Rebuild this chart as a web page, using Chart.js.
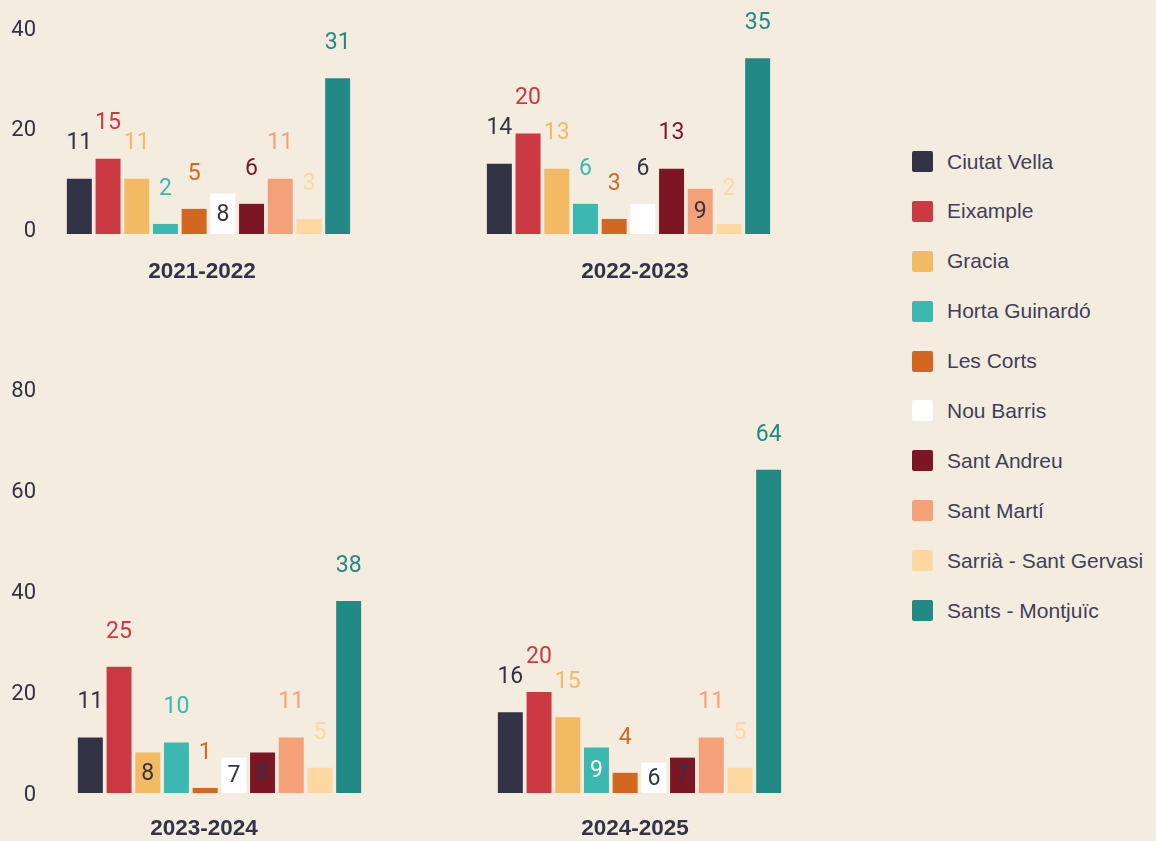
<!DOCTYPE html>
<html lang="ca">
<head>
    <meta charset="UTF-8">
    <title>Districtes per curs</title>
    <script src="https://cdn.jsdelivr.net/npm/chart.js@4.4.1/dist/chart.umd.min.js"></script>
    <style>
        body {
            margin: 0;
            width: 1156px;
            height: 841px;
            overflow: hidden;
            background-color: #f5ece0;
            position: relative;
        }
        .panel {
            position: absolute;
        }
        .legend {
            position: absolute;
            left: 912px;
            top: 151px;
            font-family: 'Liberation Sans', Arial, sans-serif;
            font-size: 21px;
            color: #404058;
        }
        .legend-item {
            display: flex;
            align-items: center;
            height: 21px;
            margin-bottom: 28.9px;
            white-space: nowrap;
        }
        .legend-box {
            width: 21px;
            height: 21px;
            border-radius: 2px;
            margin-right: 14px;
            flex: none;
        }
    </style>
</head>
<body>
    <canvas id="c0" class="panel"></canvas>
    <canvas id="c1" class="panel"></canvas>
    <canvas id="c2" class="panel"></canvas>
    <canvas id="c3" class="panel"></canvas>
    <div class="legend" id="legend"></div>

    <script>
        // dades
        const districts = ['Ciutat Vella', 'Eixample', 'Gracia', 'Horta Guinardó', 'Les Corts',
            'Nou Barris', 'Sant Andreu', 'Sant Martí', 'Sarrià - Sant Gervasi', 'Sants - Montjuïc'];
        const seasons = ['2021-2022', '2022-2023', '2023-2024', '2024-2025'];
        const values2122 = [11, 15, 11, 2, 5, 8, 6, 11, 3, 31];
        const values2223 = [14, 20, 13, 6, 3, 6, 13, 9, 2, 35];
        const values2324 = [11, 25, 8, 10, 1, 7, 8, 11, 5, 38];
        const values2425 = [16, 20, 15, 9, 4, 6, 7, 11, 5, 64];
        const ticksTopRow = [0, 20, 40];
        const ticksBottomRow = [0, 20, 40, 60, 80];

        const seriesValues = [values2122, values2223, values2324, values2425];

        const barColors = ['#333346', '#cb3a42', '#f2bb63', '#3bb8b0', '#d26720',
            '#ffffff', '#7c1524', '#f4a17a', '#fed8a0', '#228984'];
        const darkText = '#333347';

        // label color above the bar (white bar gets dark text)
        const labelColors = barColors.map(c => c === '#ffffff' ? darkText : c);

        // panel layout: canvas box, axis width, paddings, title spot, labels drawn inside the bar
        const panels = [
            { left: 0, top: 0, width: 410, height: 290, axisW: 65, showTicks: true, ticks: ticksTopRow,
              pad: { top: 33, right: 58, bottom: 56 }, titleX: 202, titleDy: 37.5, tickOffset: -3,
              inside: { 5: darkText } },
            { left: 420, top: 0, width: 430, height: 290, axisW: 65, showTicks: false, ticks: ticksTopRow,
              pad: { top: 33, right: 78, bottom: 56 }, titleX: 215, titleDy: 37.5, tickOffset: -3,
              inside: { 7: darkText } },
            { left: 0, top: 370, width: 410, height: 471, axisW: 76, showTicks: true, ticks: ticksBottomRow,
              pad: { top: 19, right: 47, bottom: 48 }, titleX: 204, titleDy: 36, tickOffset: 2,
              inside: { 2: darkText, 5: darkText, 6: darkText } },
            { left: 420, top: 370, width: 430, height: 471, axisW: 76, showTicks: false, ticks: ticksBottomRow,
              pad: { top: 19, right: 67, bottom: 48 }, titleX: 215, titleDy: 36, tickOffset: 2,
              inside: { 3: '#ffffff', 5: darkText, 6: darkText } }
        ];

        const valueLabels = {
            id: 'valueLabels',
            afterDatasetsDraw(chart, args, opts) {
                const ctx = chart.ctx;
                const meta = chart.getDatasetMeta(0);
                const data = chart.data.datasets[0].data;
                ctx.save();
                ctx.font = '23px Roboto';
                ctx.textAlign = 'center';
                ctx.textBaseline = 'middle';
                meta.data.forEach((bar, i) => {
                    const inColor = opts.inside[i];
                    let y;
                    if (inColor) {
                        ctx.fillStyle = inColor;
                        y = (bar.y + bar.base) / 2 + 1;
                    } else {
                        ctx.fillStyle = labelColors[i];
                        y = bar.y - 35;
                    }
                    ctx.fillText(String(data[i]), bar.x, y);
                });
                ctx.restore();
            }
        };

        // season name under each panel
        const panelTitle = {
            id: 'panelTitle',
            afterDraw(chart, args, opts) {
                const ctx = chart.ctx;
                ctx.save();
                ctx.font = "bold 22.5px 'Liberation Sans', Arial, sans-serif";
                ctx.fillStyle = darkText;
                ctx.textAlign = 'center';
                ctx.textBaseline = 'middle';
                ctx.fillText(opts.text, opts.x, chart.chartArea.bottom + opts.dy);
                ctx.restore();
            }
        };

        panels.forEach((p, k) => {
            const canvas = document.getElementById('c' + k);
            canvas.width = p.width;
            canvas.height = p.height;
            canvas.style.left = p.left + 'px';
            canvas.style.top = p.top + 'px';

            new Chart(canvas, {
                type: 'bar',
                data: {
                    labels: districts,
                    datasets: [{
                        data: seriesValues[k],
                        backgroundColor: barColors,
                        borderWidth: 0,
                        categoryPercentage: 1,
                        barPercentage: 0.87
                    }]
                },
                options: {
                    responsive: false,
                    animation: false,
                    events: [],
                    layout: { padding: { left: 0, top: p.pad.top, right: p.pad.right, bottom: p.pad.bottom } },
                    scales: {
                        x: { display: false },
                        y: {
                            min: p.ticks[0],
                            max: p.ticks[p.ticks.length - 1],
                            afterBuildTicks: scale => { scale.ticks = p.ticks.map(v => ({ value: v })); },
                            afterFit: scale => {
                                scale.width = p.axisW;
                                scale.paddingTop = 0;
                                scale.paddingBottom = 0;
                            },
                            grid: { display: false, drawTicks: false },
                            border: { display: false },
                            ticks: {
                                display: p.showTicks,
                                padding: p.axisW - 36,
                                labelOffset: p.tickOffset,
                                color: darkText,
                                font: { family: 'Roboto', size: 22 }
                            }
                        }
                    },
                    plugins: {
                        legend: { display: false },
                        tooltip: { enabled: false },
                        title: { display: false },
                        valueLabels: { inside: p.inside },
                        panelTitle: { text: seasons[k], x: p.titleX, dy: p.titleDy }
                    }
                },
                plugins: [valueLabels, panelTitle]
            });
        });

        // llegenda
        const legend = document.getElementById('legend');
        districts.forEach((name, i) => {
            const item = document.createElement('div');
            item.className = 'legend-item';
            const box = document.createElement('span');
            box.className = 'legend-box';
            box.style.backgroundColor = barColors[i];
            const label = document.createElement('span');
            label.textContent = name;
            item.appendChild(box);
            item.appendChild(label);
            legend.appendChild(item);
        });
    </script>
</body>
</html>
